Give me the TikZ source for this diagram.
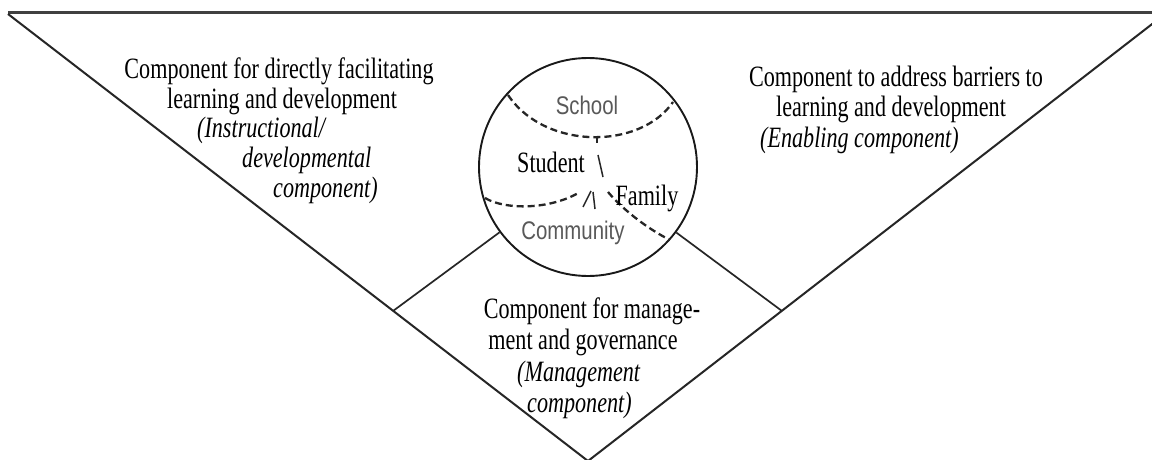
\documentclass[tikz,border=0pt]{standalone}
\usepackage{fontspec}
\setmainfont{Liberation Serif}[FakeStretch=0.75]
\newfontfamily\graysans{Liberation Sans}[FakeStretch=0.8]
\begin{document}
\begin{tikzpicture}[x=1pt,y=-1pt,
  edgeline/.style={line width=2pt, black!85},
  topline/.style={line width=2.4pt, black!75},
  link/.style={line width=1.7pt, black!85},
  divide/.style={line width=2.3pt, dash pattern=on 7pt off 4pt, black!85},
  stroke/.style={line width=1.5pt, black!85},
  txt/.style={inner sep=0pt, anchor=base, font=\fontsize{29.5}{30}\selectfont},
  txtw/.style={txt, anchor=base west},
  lbl/.style={inner sep=0pt, anchor=base, font=\graysans\fontsize{25.5}{26}\selectfont, text=black!65}]

\useasboundingbox (0,0) rectangle (1152,460);
\fill[white] (0,0) rectangle (1152,460);

% outer triangle
\coordinate (tl) at (8,12.5);
\coordinate (tr) at (1152,12.5);
\coordinate (lt) at (8,14);
\coordinate (apex) at (588,461);
\coordinate (rt) at (1167,12.5);
\draw[topline] (tl) -- (tr);
\draw[edgeline] (lt) -- (apex) -- (rt);

% circle
\node[circle, draw, line width=1.9pt, black!90, minimum size=218pt, inner sep=0pt] (globe) at (588,167) {};

% connectors to the edges
\coordinate (lfoot) at (393,311);
\coordinate (rfoot) at (782,311);
\draw[link] (globe) -- (lfoot);
\draw[link] (globe) -- (rfoot);

% dashed dividers
\draw[divide] (508,95) .. controls (545,150) and (640,150) .. (673,102);
\draw[divide] (485,198) .. controls (505,210) and (550,210) .. (580,192);
\draw[divide] (608,192) .. controls (625,212) and (650,230) .. (670,240);

% small strokes
\draw[line width=2.2pt, black!85] (597,136) -- (597,143);
\draw[stroke] (598,155) -- (603,177);
\draw[stroke] (583,207) -- (591,191);
\draw[stroke] (593,192) -- (595,209);

% circle labels
\node[lbl] (school) at (587,114) {School};
\node[lbl] (community) at (573,239) {Community};
\node[txt] (student) at (551,172) {Student};
\node[txt] (family) at (647,205) {Family};

% left component
\node[txt] (l1) at (279,78) {Component for directly facilitating};
\node[txt] (l2) at (282,108) {learning and development};
\node[txtw] (l3) at (197,137) {\itshape (Instructional/};
\node[txtw] (l4) at (242,167) {\itshape developmental};
\node[txtw] (l5) at (273,197) {\itshape component)};

% right component
\node[txt] (r1) at (896,87) {Component to address barriers to};
\node[txt] (r2) at (891,117) {learning and development};
\node[txtw] (r3) at (760,147) {\itshape (Enabling component)};

% bottom component
\node[txt] (b1) at (592,318) {Component for manage-};
\node[txt] (b2) at (583,349) {ment and governance};
\node[txtw] (b3) at (517,381) {\itshape (Management};
\node[txtw] (b4) at (527,412) {\itshape component)};
\end{tikzpicture}
\end{document}
